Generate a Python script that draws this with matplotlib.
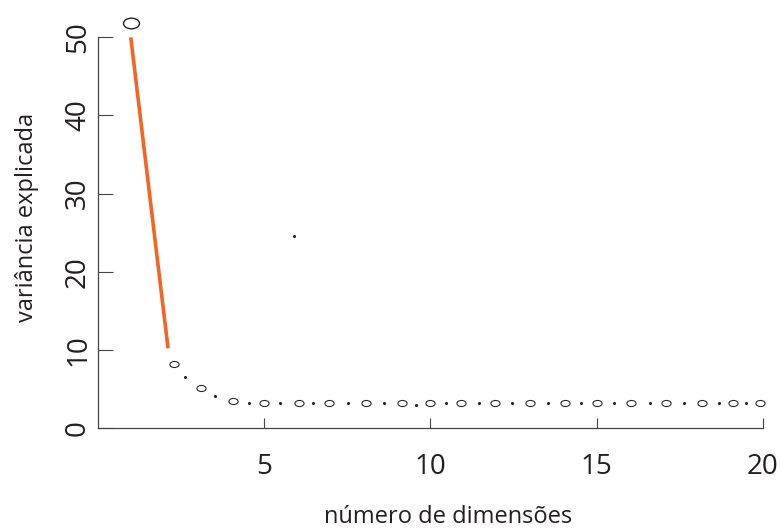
import numpy as np
import matplotlib
matplotlib.use("Agg")
from matplotlib import pyplot as plt
from matplotlib.path import Path

plt.rcParams['font.family'] = ['Open Sans', 'DejaVu Sans']

# first component and the line down to the elbow
first_x = [1.0]
first_y = [51.9]
line_x = [1.0, 2.12]
line_y = [50.0, 10.2]

# remaining components (open circles)
circ_x = [2.29, 3.1, 4.07, 5.0, 6.05, 6.96, 8.08, 9.15, 10.0, 10.93, 11.94,
          13.0, 14.04, 15.02, 16.04, 17.1, 18.17, 19.1, 19.9]
circ_y = [8.2, 5.1, 3.5, 3.2, 3.2, 3.2, 3.2, 3.2, 3.2, 3.2, 3.2,
          3.2, 3.2, 3.2, 3.2, 3.2, 3.2, 3.2, 3.2]

# small dots between them
dot_x = [2.63, 3.53, 4.55, 5.48, 5.9, 6.47, 7.52, 8.6, 9.58, 10.47, 11.46,
         12.47, 13.54, 14.54, 15.52, 16.6, 17.64, 18.67, 19.5]
dot_y = [6.5, 4.1, 3.25, 3.15, 24.6, 3.15, 3.15, 3.15, 2.9, 3.15, 3.15,
         3.15, 3.15, 3.15, 3.15, 3.15, 3.15, 3.15, 3.15]

xticks = [5, 10, 15, 20]
yticks = [0, 10, 20, 30, 40, 50]

# flattened circle marker
uc = Path.unit_circle()
ellipse = Path(uc.vertices * np.array([1.5, 1.0]), uc.codes)

fig = plt.figure(figsize=(7.8, 5.3), dpi=100)
ax = fig.add_axes([0.125, 0.1925, 0.853, 0.737])

ax.plot(line_x, line_y, color='#f26522', lw=2.6, solid_capstyle='butt', zorder=2)
ax.plot(first_x, first_y, ls='none', marker=ellipse, ms=11.5, mfc='none',
        mec='#222222', mew=1.0, clip_on=False, zorder=3)
ax.plot(circ_x, circ_y, ls='none', marker=ellipse, ms=6.6, mfc='none',
        mec='#222222', mew=0.75, clip_on=False, zorder=3)
ax.plot(dot_x, dot_y, ls='none', marker='o', ms=2.2, color='#222222',
        mew=0, clip_on=False, zorder=3)

ax.set_xlim(0, 20)
ax.set_ylim(0, 50)
ax.set_xticks(xticks)
ax.set_yticks(yticks)

for s in ['top', 'right']:
    ax.spines[s].set_visible(False)
for s in ['left', 'bottom']:
    ax.spines[s].set_color('#444444')
    ax.spines[s].set_linewidth(0.9)

ax.tick_params(axis='x', direction='in', length=7.2, width=0.8, color='#444444',
               pad=18, labelsize=20, labelcolor='#231f20')
ax.tick_params(axis='y', direction='in', length=10.8, width=0.8, color='#444444',
               pad=4, labelsize=20, labelcolor='#231f20', labelrotation=90)
for lbl in ax.get_yticklabels():
    lbl.set_verticalalignment('center')

ax.set_xlabel('número de dimensões', fontsize=17, color='#231f20',
              labelpad=17, x=0.527)
ax.set_ylabel('variância explicada', fontsize=17, color='#231f20',
              labelpad=18, y=0.538)

fig.savefig('out.png', dpi=100)
